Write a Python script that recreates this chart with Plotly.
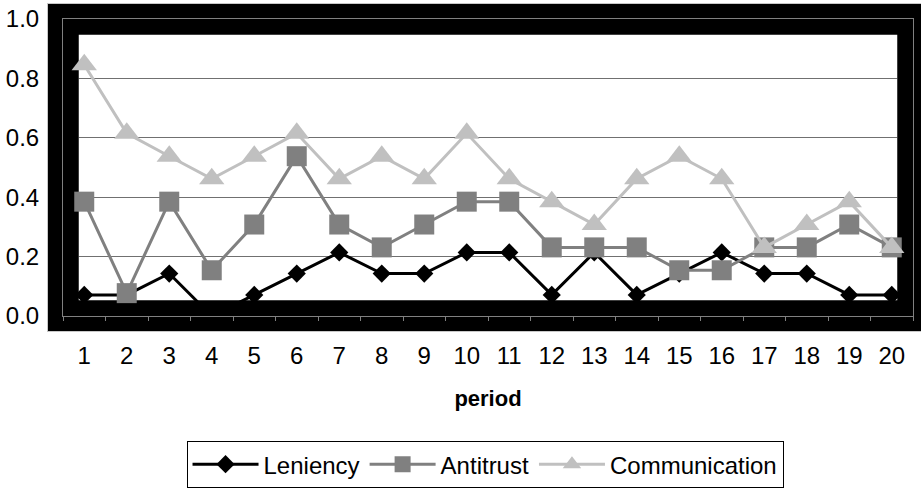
import plotly.graph_objects as go

# Share of cartels per period, by treatment
periods = [str(p) for p in range(1, 21)]
leniency = [0.071, 0.071, 0.143, 0.0, 0.071, 0.143, 0.214, 0.143, 0.143, 0.214,
            0.214, 0.071, 0.214, 0.071, 0.143, 0.214, 0.143, 0.143, 0.071, 0.071]
antitrust = [0.385, 0.077, 0.385, 0.154, 0.308, 0.538, 0.308, 0.231, 0.308, 0.385,
             0.385, 0.231, 0.231, 0.231, 0.154, 0.154, 0.231, 0.231, 0.308, 0.231]
communication = [0.846, 0.615, 0.538, 0.462, 0.538, 0.615, 0.462, 0.538, 0.462, 0.615,
                 0.462, 0.385, 0.308, 0.462, 0.538, 0.462, 0.231, 0.308, 0.385, 0.231]
y_ticks = [0.0, 0.2, 0.4, 0.6, 0.8, 1.0]

FONT = "Arial, Liberation Sans, sans-serif"
W, H = 921, 488
M_L, M_R, M_T, M_B = 63, 8, 19, 172
PW, PH = W - M_L - M_R, H - M_T - M_B
BAND = 31  # width of the heavy frame around the plot area

fig = go.Figure()
series = [
    ("Leniency", leniency, "#000000", "diamond", 14),
    ("Antitrust", antitrust, "#808080", "square", 20),
    ("Communication", communication, "#C0C0C0", "triangle-up", 22),
]
for name, vals, color, symbol, size in series:
    fig.add_trace(go.Scatter(
        x=periods, y=vals, name=name, mode="lines+markers",
        line=dict(color=color, width=3),
        marker=dict(symbol=symbol, size=size, color=color, line=dict(width=0)),
    ))

# heavy black frame: drawn on paper, then repeated above the gridlines
fig.add_shape(type="rect", xref="paper", yref="paper", x0=0, x1=1, y0=0, y1=1,
              line=dict(color="black", width=BAND), layer="below")
fig.add_shape(type="rect", xref="x", yref="y", x0=-0.5, x1=19.5, y0=0, y1=1,
              line=dict(color="black", width=BAND), layer="between")
# thin light edge around the outside of the frame
hx, hy = (BAND / 2) / PW, (BAND / 2) / PH
fig.add_shape(type="rect", xref="paper", yref="paper",
              x0=-hx, x1=1 + hx, y0=-hy, y1=1 + hy,
              line=dict(color="#c8c8c8", width=1), layer="below")

fig.update_layout(
    width=W, height=H,
    margin=dict(l=M_L, r=M_R, t=M_T, b=M_B, autoexpand=False),
    paper_bgcolor="white", plot_bgcolor="rgba(0,0,0,0)",
    font=dict(family=FONT, size=24, color="black"),
    showlegend=True,
    legend=dict(
        orientation="h", x=0.4965, xanchor="center", y=-0.421, yanchor="top",
        bordercolor="black", borderwidth=1, font=dict(size=24),
        itemwidth=66, tracegroupgap=0,
    ),
)
fig.update_xaxes(
    type="category", range=[-0.5, 19.5],
    showline=True, mirror=True, linecolor="#808080", linewidth=1,
    ticks="outside", ticklen=4, tickcolor="#808080", tickson="boundaries",
    ticklabelstandoff=18, showgrid=False, layer="below traces",
    title=dict(text="<b>period</b>", font=dict(size=22), standoff=22),
)
fig.update_yaxes(
    range=[0, 1], tickvals=y_ticks, tickformat=".1f",
    showline=True, mirror=True, linecolor="#808080", linewidth=1,
    showgrid=True, gridcolor="#707070", gridwidth=1,
    ticks="", ticklabelstandoff=18, zeroline=False, layer="below traces",
)

fig.write_html("out.html")
